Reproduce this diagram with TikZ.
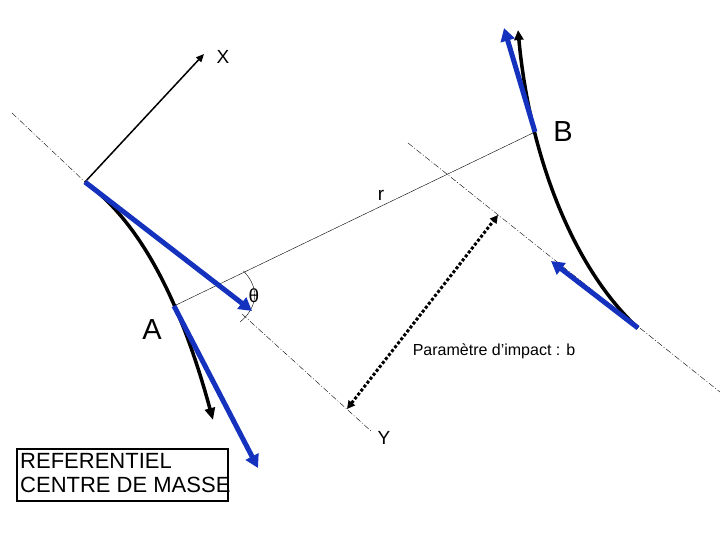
\documentclass[tikz,border=0pt]{standalone}
\usepackage{fontspec}
\setmainfont{Liberation Sans}
\usetikzlibrary{arrows.meta}
\definecolor{vblue}{RGB}{20,50,190}
\begin{document}
\begin{tikzpicture}[x=1pt,y=-1pt,
  dd/.style={thin,dash pattern=on 6pt off 2pt on 1pt off 2pt},
  bluearr/.style={vblue,line width=5pt,-{Triangle[length=13pt,width=14pt]}},
  traj/.style={black,line width=3.5pt},
  lab/.style={font=\fontsize{19}{22}\selectfont}]
\useasboundingbox (0,0) rectangle (720,540);
\coordinate (a0) at (85,182);
\coordinate (ap) at (174,306);
\coordinate (bp) at (535,132);
\coordinate (bl) at (638,328);
\coordinate (th) at (242,314);
% dash-dot lines
\coordinate (d1) at (12,113);
\coordinate (d2) at (372,432);
\coordinate (e1) at (408,143);
\coordinate (e2) at (720,392);
\draw[dd] (d1) -- (a0);
\draw[dd] (th) -- (d2);
\draw[dd] (e1) -- (e2);
% X axis
\coordinate (xt) at (204,54);
\draw[line width=1.5pt,-{Triangle[length=8pt,width=7pt]}] (a0) -- (xt);
\node[lab] (X) at (223,57) {X};
\node[lab] (Y) at (384,438) {Y};
% r line
\draw[thin] (ap) -- (bp);
\node[lab] (r) at (381,195) {r};
% theta
\draw[thin] (243.5,271) .. controls (262,290) and (255,310) .. (240,322);
\node[lab] (theta) at (254,296) {θ};
% trajectory A
\draw[traj,-{Triangle[length=12pt,width=10pt]}] (a0) .. controls (130,215) and (175,280) .. (213,420);
% trajectory B
\draw[traj,-{Triangle[length=10pt,width=9pt]}] (bl) .. controls (575,270) and (530,160) .. (518,30);
% blue arrows
\draw[bluearr] (a0) -- (252,311);
\draw[bluearr] (ap) -- (258,468);
\draw[bluearr] (bp) -- (504,28);
\draw[bluearr] (bl) -- (551,261);
% impact parameter
\coordinate (i1) at (347,409);
\coordinate (i2) at (498,215);
\draw[line width=3pt,dotted,{Triangle[length=8pt,width=8pt]}-{Triangle[length=8pt,width=8pt]}] (i1) -- (i2);
\node[font=\fontsize{16}{18}\selectfont] (pb) at (494,351) {Paramètre d’impact : b};
% labels A B
\node[font=\fontsize{29}{32}\selectfont] (A) at (152,330) {A};
\node[font=\fontsize{29}{32}\selectfont] (B) at (563,132) {B};
% box
\node[draw,line width=2pt,minimum width=211pt,minimum height=52pt] (box) at (122.5,475) {};
\node[anchor=west,align=left,inner sep=0pt,font=\fontsize{22}{24}\selectfont] (boxtext) at (20,473) {REFERENTIEL\\CENTRE DE MASSE};
\end{tikzpicture}
\end{document}
